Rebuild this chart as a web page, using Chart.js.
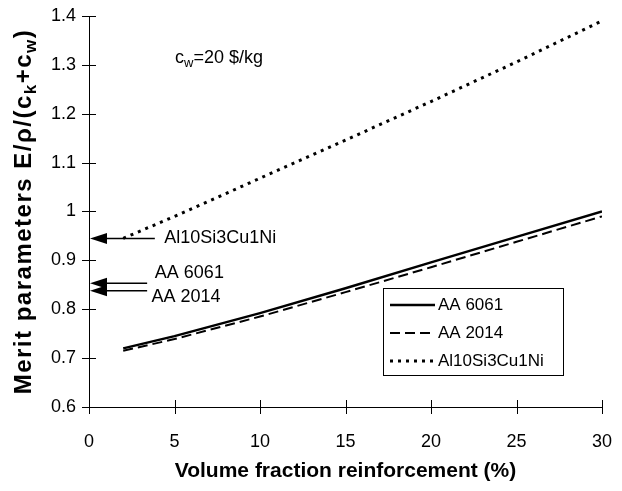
<!DOCTYPE html>
<html>
<head>
<meta charset="utf-8">
<script src="https://cdn.jsdelivr.net/npm/chart.js@4.4.0/dist/chart.umd.min.js"></script>
<style>
  html, body { margin: 0; padding: 0; background: #fff; }
  #wrap { width: 622px; height: 491px; }
</style>
</head>
<body>
<div id="wrap"><canvas id="chart" width="622" height="491"></canvas></div>
<script>
// data
const volumeFraction = [2, 5, 10, 15, 20, 25, 30];
const aa6061 = [0.72, 0.745, 0.792, 0.843, 0.896, 0.948, 1.0];
const aa2014 = [0.715, 0.739, 0.785, 0.835, 0.886, 0.938, 0.99];
const al10Si3Cu1Ni = [0.945, 0.99, 1.068, 1.146, 1.225, 1.306, 1.39];

// unreinforced alloy markers on the y axis
const arrowLabels = ['Al10Si3Cu1Ni', 'AA 6061', 'AA 2014'];
const arrowValues = [0.945, 0.853, 0.838];

const xTicks = [0, 5, 10, 15, 20, 25, 30];
const yTicks = [0.6, 0.7, 0.8, 0.9, 1, 1.1, 1.2, 1.3, 1.4];

const FONT = '"Liberation Sans", Arial, Helvetica, sans-serif';

function toPoints(ys) {
  return volumeFraction.map((x, i) => ({ x: x, y: ys[i] }));
}

// draws text pieces with subscripts, returns total width
function drawRich(ctx, parts, x, y, size, bold, measureOnly) {
  let w = 0;
  parts.forEach(p => {
    const s = p.sub ? Math.round(size * 0.72) : size;
    ctx.font = (bold ? 'bold ' : '') + s + 'px ' + FONT;
    if (!measureOnly) {
      ctx.fillText(p.t, x + w, y + (p.sub ? size * 0.3 : 0));
    }
    w += ctx.measureText(p.t).width;
  });
  return w;
}

const extrasPlugin = {
  id: 'extras',
  afterDraw(chart) {
    const ctx = chart.ctx;
    const xs = chart.scales.x;
    const ys = chart.scales.y;
    const area = chart.chartArea;
    ctx.save();
    ctx.strokeStyle = '#000';
    ctx.fillStyle = '#000';
    ctx.lineWidth = 1;

    // crossing tick marks
    yTicks.forEach(v => {
      const py = Math.round(ys.getPixelForValue(v)) + 0.5;
      ctx.beginPath();
      ctx.moveTo(area.left - 7, py);
      ctx.lineTo(area.left + 7, py);
      ctx.stroke();
    });
    xTicks.forEach(v => {
      const px = Math.round(xs.getPixelForValue(v)) + 0.5;
      ctx.beginPath();
      ctx.moveTo(px, area.bottom - 7);
      ctx.lineTo(px, area.bottom + 7);
      ctx.stroke();
    });

    // arrows to the y axis
    const arrowEnds = [3.85, 3.4, 3.4];
    const labelX = [4.4, 3.85, 3.65];
    const labelY = [0.945, 0.874, 0.826];
    arrowValues.forEach((v, i) => {
      const py = ys.getPixelForValue(v);
      const x0 = xs.getPixelForValue(0);
      const x1 = xs.getPixelForValue(arrowEnds[i]);
      ctx.lineWidth = 1.5;
      ctx.beginPath();
      ctx.moveTo(x0 + 10, py);
      ctx.lineTo(x1, py);
      ctx.stroke();
      ctx.beginPath();
      ctx.moveTo(x0 + 1, py);
      ctx.lineTo(x0 + 18, py - 5.5);
      ctx.lineTo(x0 + 18, py + 5.5);
      ctx.closePath();
      ctx.fill();
      ctx.font = '18px ' + FONT;
      ctx.textBaseline = 'middle';
      ctx.textAlign = 'left';
      ctx.fillText(arrowLabels[i], xs.getPixelForValue(labelX[i]), ys.getPixelForValue(labelY[i]));
    });

    // cost annotation
    ctx.textBaseline = 'middle';
    ctx.textAlign = 'left';
    drawRich(ctx, [{ t: 'c' }, { t: 'w', sub: true }, { t: '=20 $/kg' }], 175, 58, 18, false);

    // legend box
    const bx = 383, by = 288, bw = 180, bh = 87;
    ctx.lineWidth = 1;
    ctx.strokeRect(bx + 0.5, by + 0.5, bw, bh);
    chart.data.datasets.forEach((ds, i) => {
      const ly = by + 17 + i * 28;
      ctx.save();
      ctx.lineWidth = ds.borderWidth;
      ctx.setLineDash(ds.borderDash || []);
      ctx.beginPath();
      ctx.moveTo(bx + 7, ly);
      ctx.lineTo(bx + 52, ly);
      ctx.stroke();
      ctx.restore();
      ctx.font = '17px ' + FONT;
      ctx.textBaseline = 'middle';
      ctx.fillText(ds.label, bx + 55, ly);
    });

    // axis titles
    ctx.font = 'bold 21px ' + FONT;
    ctx.textAlign = 'center';
    ctx.textBaseline = 'middle';
    ctx.fillText('Volume fraction reinforcement (%)', (area.left + area.right) / 2, 471);

    const yParts = [
      { t: 'Merit parameters E/\u03c1/(c' }, { t: 'k', sub: true },
      { t: '+c' }, { t: 'w', sub: true }, { t: ')' }
    ];
    ctx.save();
    ctx.translate(24, (area.top + area.bottom) / 2);
    ctx.rotate(-Math.PI / 2);
    ctx.textAlign = 'left';
    ctx.letterSpacing = '1.5px';
    const tw = drawRich(ctx, yParts, 0, 0, 24, true, true);
    drawRich(ctx, yParts, -tw / 2, 0, 24, true);
    ctx.restore();

    ctx.restore();
  }
};

new Chart(document.getElementById('chart'), {
  type: 'line',
  data: {
    datasets: [
      {
        label: 'AA 6061',
        data: toPoints(aa6061),
        borderColor: '#000',
        borderWidth: 2.5,
        pointRadius: 0,
        tension: 0
      },
      {
        label: 'AA 2014',
        data: toPoints(aa2014),
        borderColor: '#000',
        borderWidth: 2,
        borderDash: [10, 5],
        pointRadius: 0,
        tension: 0
      },
      {
        label: 'Al10Si3Cu1Ni',
        data: toPoints(al10Si3Cu1Ni),
        borderColor: '#000',
        borderWidth: 3,
        borderDash: [3, 5],
        pointRadius: 0,
        tension: 0
      }
    ]
  },
  options: {
    responsive: false,
    animation: false,
    layout: { padding: { left: 0, top: 16, right: 20, bottom: 0 } },
    plugins: {
      legend: { display: false },
      tooltip: { enabled: false }
    },
    scales: {
      x: {
        type: 'linear',
        min: 0,
        max: 30,
        afterFit: s => { s.height = 84; s.paddingLeft = 0; s.paddingRight = 0; },
        afterBuildTicks: s => { s.ticks = xTicks.map(v => ({ value: v })); },
        grid: { display: false, drawTicks: false },
        border: { display: true, color: '#000', width: 1 },
        ticks: {
          color: '#000',
          padding: 24,
          font: { family: FONT, size: 18 },
          maxRotation: 0
        }
      },
      y: {
        type: 'linear',
        min: 0.6,
        max: 1.4,
        afterFit: s => { s.width = 89; s.paddingTop = 0; s.paddingBottom = 0; },
        afterBuildTicks: s => { s.ticks = yTicks.map(v => ({ value: v })); },
        grid: { display: false, drawTicks: false },
        border: { display: true, color: '#000', width: 1 },
        ticks: {
          color: '#000',
          padding: 13,
          font: { family: FONT, size: 18 },
          callback: v => String(Math.round(v * 10) / 10)
        }
      }
    }
  },
  plugins: [extrasPlugin]
});
</script>
</body>
</html>
